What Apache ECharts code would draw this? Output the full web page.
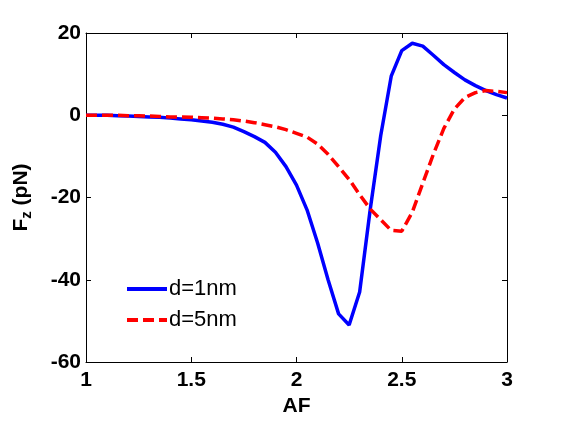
<!DOCTYPE html>
<html>
<head>
<meta charset="utf-8">
<title>Fz vs AF</title>
<script src="https://cdn.jsdelivr.net/npm/echarts@6/dist/echarts.min.js"></script>
<style>
  html, body { margin: 0; padding: 0; background: #fff; }
  #main { width: 562px; height: 422px; }
</style>
</head>
<body>
<div id="main"></div>
<script>
// AF values (x)
var afValues = [1.00, 1.05, 1.10, 1.15, 1.20, 1.25, 1.30, 1.35, 1.40, 1.45,
                1.50, 1.55, 1.60, 1.65, 1.70, 1.75, 1.80, 1.85, 1.90, 1.95,
                2.00, 2.05, 2.10, 2.15, 2.20, 2.25, 2.30, 2.35, 2.40, 2.45,
                2.50, 2.55, 2.60, 2.65, 2.70, 2.75, 2.80, 2.85, 2.90, 2.95, 3.00];
// Fz (pN), d = 1nm
var fz1nm = [0, 0, 0, -0.1, -0.2, -0.3, -0.4, -0.5, -0.7, -0.9,
             -1.1, -1.4, -1.7, -2.2, -2.9, -4.0, -5.2, -6.6, -9.0, -12.5,
             -17, -23, -31, -40, -48.3, -51, -43, -23, -5, 9.5,
             15.7, 17.5, 16.8, 14.6, 12.3, 10.4, 8.6, 7.2, 6.0, 5.0, 4.2];
// Fz (pN), d = 5nm
var fz5nm = [0, 0, 0, 0, -0.1, -0.1, -0.2, -0.3, -0.4, -0.4,
             -0.5, -0.6, -0.7, -0.9, -1.1, -1.4, -1.8, -2.3, -2.8, -3.5,
             -4.4, -5.3, -7.0, -9.5, -12.5, -15.6, -19.3, -22.8, -25.4, -28.0,
             -28.2, -23.6, -16.5, -9.5, -3.2, 1.5, 4.3, 5.5, 6.0, 5.8, 5.5];
var xTicks = [1, 1.5, 2, 2.5, 3];
var yTicks = [-60, -40, -20, 0, 20];
var seriesNames = ['d=1nm', 'd=5nm'];

function pairs(xs, ys) {
  var out = [];
  for (var i = 0; i < xs.length; i++) out.push([xs[i], ys[i]]);
  return out;
}

var myChart = echarts.init(document.getElementById('main'));

var tickLabel = { color: '#000', fontFamily: 'Liberation Sans', fontWeight: 'bold', fontSize: 21 };
var blackLine = { onZero: false, lineStyle: { color: '#000', width: 1 } };
var inTick = { inside: true, length: 5, lineStyle: { color: '#000' } };

var option = {
  animation: false,
  backgroundColor: '#fff',
  grid: { left: 86, right: 55, top: 33, bottom: 59 },
  legend: {
    data: seriesNames,
    orient: 'vertical',
    left: 120,
    top: 273,
    itemWidth: 40,
    itemHeight: 14,
    itemGap: 9,
    itemStyle: { opacity: 0 },
    lineStyle: { width: 4 },
    textStyle: { color: '#000', fontFamily: 'Liberation Sans', fontSize: 22, padding: [0, 0, 0, -3] }
  },
  xAxis: [{
    type: 'value',
    min: xTicks[0], max: xTicks[xTicks.length - 1], interval: 0.5,
    name: 'AF',
    nameLocation: 'middle',
    nameGap: 34,
    nameTextStyle: tickLabel,
    axisLine: blackLine,
    axisTick: inTick,
    axisLabel: Object.assign({ margin: 8 }, tickLabel),
    splitLine: { show: false }
  }, {
    type: 'value', position: 'top',
    min: xTicks[0], max: xTicks[xTicks.length - 1], interval: 0.5,
    axisLine: blackLine,
    axisTick: inTick,
    axisLabel: { show: false },
    splitLine: { show: false }
  }],
  yAxis: [{
    type: 'value',
    min: yTicks[0], max: yTicks[yTicks.length - 1], interval: 20,
    name: '{f|F}{z|z}{f| (pN)}',
    nameLocation: 'middle',
    nameGap: 52,
    nameRotate: 90,
    nameTextStyle: {
      rich: {
        f: { color: '#000', fontFamily: 'Liberation Sans', fontWeight: 'bold', fontSize: 21 },
        z: { color: '#000', fontFamily: 'Liberation Sans', fontWeight: 'bold', fontSize: 15, verticalAlign: 'bottom', padding: [10, 0, 0, 0] }
      }
    },
    axisLine: blackLine,
    axisTick: inTick,
    axisLabel: Object.assign({ margin: 5 }, tickLabel),
    splitLine: { show: false }
  }, {
    type: 'value', position: 'right',
    min: yTicks[0], max: yTicks[yTicks.length - 1], interval: 20,
    axisLine: blackLine,
    axisTick: inTick,
    axisLabel: { show: false },
    splitLine: { show: false }
  }],
  series: [{
    name: seriesNames[0],
    type: 'line',
    data: pairs(afValues, fz1nm),
    symbol: 'none',
    lineStyle: { color: '#0000ff', width: 3.5 },
    itemStyle: { color: '#0000ff' }
  }, {
    name: seriesNames[1],
    type: 'line',
    data: pairs(afValues, fz5nm),
    symbol: 'none',
    lineStyle: { color: '#ff0000', width: 3.5, type: [11, 5] },
    itemStyle: { color: '#ff0000' }
  }]
};

myChart.setOption(option);
</script>
</body>
</html>
